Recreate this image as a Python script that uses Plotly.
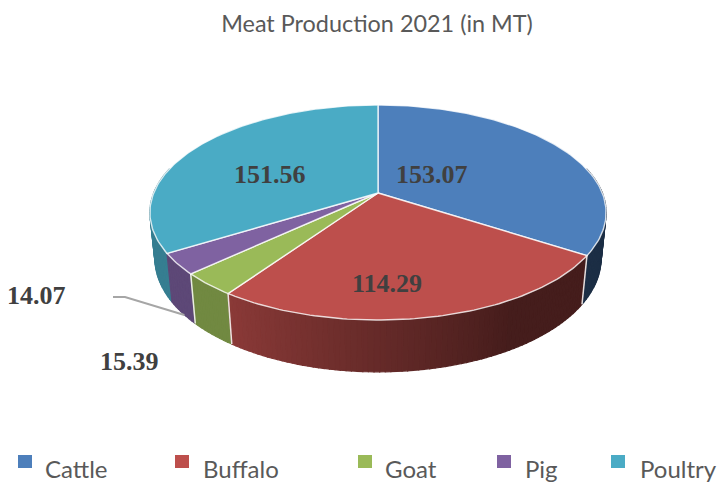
import math
import plotly.graph_objects as go

categories = ["Cattle", "Buffalo", "Goat", "Pig", "Poultry"]
values = [153.07, 114.29, 15.39, 14.07, 151.56]
top_colors = ["#4D7FBB", "#BD4F4C", "#9ABA58", "#7F62A1", "#4AABC5"]

TITLE = "Meat Production 2021 (in MT)"
TEXT_GREY = "#595959"
LABEL_GREY = "#404040"
LABEL_POS = [(432, 174), (387, 283), (129, 361), (36, 295), (270, 174)]
LEGEND_SWATCH_X = [18, 175, 358, 497, 611]
LEGEND_TEXT_X = [43, 201, 383, 523, 638]

# Camera model of the tilted pie, in pixels
CX, CY = 378.0, 193.0
D, F, G = 5.51, 1236.0, 573.0
K, H = 0.12, 255.0


def project(theta, bottom=False, r=1.0):
    X = r * math.sin(theta)
    Y = -r * math.cos(theta)
    if bottom:
        den = D - Y + K
        return CX + F * X / den, CY + (G * Y + H) / den
    den = D - Y
    return CX + F * X / den, CY + G * Y / den


def shade(hex_color, f):
    r, g, b = (int(hex_color[i:i + 2], 16) for i in (1, 3, 5))
    return f"rgb({int(r * f)},{int(g * f)},{int(b * f)})"


def side_factor(theta):
    # Light comes from the lower left; darkest towards the right-hand side
    deg = math.degrees(theta)
    if deg <= 150:
        return 0.37
    if deg >= 215:
        return 0.74
    return 0.37 + (deg - 150) / 65 * 0.37


total = sum(values)
edges = [0.0]
for v in values:
    edges.append(edges[-1] + v / total * 2 * math.pi)

fig = go.Figure()

# Sides: only the part of the rim facing the viewer
STEP = math.radians(1.2)
segments = []
for i, cat in enumerate(categories):
    a0, a1 = edges[i], edges[i + 1]
    n = max(1, int((a1 - a0) / STEP))
    for j in range(n):
        s0 = a0 + (a1 - a0) * j / n
        s1 = a0 + (a1 - a0) * (j + 1) / n
        mid = (s0 + s1) / 2
        if -math.cos(mid) > -0.25:
            segments.append((-math.cos(mid), s0, s1, i, mid))
segments.sort(key=lambda s: s[0])
for _, s0, s1, i, mid in segments:
    p = [project(s0), project(s1), project(s1, True), project(s0, True), project(s0)]
    col = shade(top_colors[i], side_factor(mid))
    fig.add_trace(go.Scatter(
        x=[q[0] for q in p], y=[q[1] for q in p], mode="lines", fill="toself",
        fillcolor=col, line=dict(color=col, width=1.2),
        hoverinfo="skip", showlegend=False))

# White separators between neighbouring slices on the rim
for e in edges[1:4]:
    a, b = project(e), project(e, True)
    fig.add_trace(go.Scatter(
        x=[a[0], b[0]], y=[a[1], b[1]], mode="lines",
        line=dict(color="rgba(255,255,255,0.85)", width=1.5),
        hoverinfo="skip", showlegend=False))

# Top faces
for i, cat in enumerate(categories):
    a0, a1 = edges[i], edges[i + 1]
    n = max(4, int((a1 - a0) / math.radians(1)))
    pts = [(CX, CY)] + [project(a0 + (a1 - a0) * j / n) for j in range(n + 1)] + [(CX, CY)]
    fig.add_trace(go.Scatter(
        x=[q[0] for q in pts], y=[q[1] for q in pts], mode="lines", fill="toself",
        fillcolor=top_colors[i], line=dict(color="rgba(255,255,255,0.8)", width=1.4),
        name=cat, text=f"{cat}: {values[i]:.2f}", hoverinfo="text", showlegend=False))

# Leader line for the pig label, ending on the pig slice's rim
pig_mid = (edges[3] + edges[4]) / 2
rim = project(pig_mid, True)
fig.add_trace(go.Scatter(
    x=[113, 125, rim[0] + 2], y=[297, 297, rim[1] + 2], mode="lines",
    line=dict(color="#A6A6A6", width=2), hoverinfo="skip", showlegend=False))

annotations = []
for v, (lx, ly) in zip(values, LABEL_POS):
    annotations.append(dict(
        x=lx, y=ly, xref="x", yref="y", text=f"<b>{v:.2f}</b>", showarrow=False,
        xanchor="center", yanchor="middle",
        font=dict(family="Liberation Serif", size=26, color=LABEL_GREY)))

shapes = []
for cat, col, sx, tx in zip(categories, top_colors, LEGEND_SWATCH_X, LEGEND_TEXT_X):
    shapes.append(dict(type="rect", xref="x", yref="y", x0=sx, x1=sx + 14, y0=455, y1=468,
                       fillcolor=col, line=dict(width=0), layer="above"))
    annotations.append(dict(
        x=tx, y=468, xref="x", yref="y", text=cat, showarrow=False,
        xanchor="left", yanchor="middle",
        font=dict(family="Lato", size=24, color=TEXT_GREY)))

fig.update_layout(
    width=717, height=482, margin=dict(l=0, r=0, t=0, b=0),
    paper_bgcolor="white", plot_bgcolor="white", showlegend=False,
    title=dict(text=TITLE, x=377 / 717, xanchor="center", y=1 - 24 / 482, yanchor="middle",
               font=dict(family="Lato", size=23.4, color=TEXT_GREY)),
    xaxis=dict(range=[0, 717], visible=False, fixedrange=True),
    yaxis=dict(range=[482, 0], visible=False, fixedrange=True),
    annotations=annotations, shapes=shapes,
)
fig.write_html("out.html", config=dict(displayModeBar=False),
               post_script="document.body.style.margin='0';document.body.style.overflow='hidden';")
